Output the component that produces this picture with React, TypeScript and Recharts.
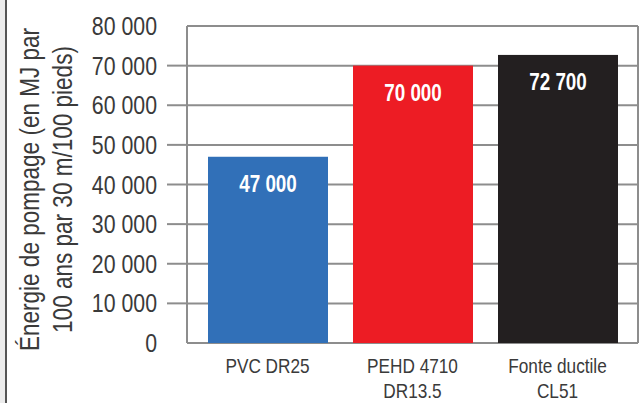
import { BarChart, Bar, XAxis, YAxis, CartesianGrid, LabelList } from "recharts";

const categories = ["PVC DR25", "PEHD 4710 DR13.5", "Fonte ductile CL51"];
const categoryLines = [["PVC DR25"], ["PEHD 4710", "DR13.5"], ["Fonte ductile", "CL51"]];
const energy = [47000, 70000, 72700];
const barColors = ["#3170b8", "#ed1c24", "#231f20"];
const yTicks = [0, 10000, 20000, 30000, 40000, 50000, 60000, 70000, 80000];
const yTitle = ["Énergie de pompage (en MJ par", "100 ans par 30 m/100 pieds)"];

const data = categories.map((c, i) => ({ name: c, value: energy[i], color: barColors[i] }));

const FONT = "'Liberation Sans', Arial, sans-serif";
const TEXT = "#3a3a3a";
const GRID = "#8d8d8d";
const SQUEEZE = 0.82; // no condensed font installed, so squeeze Liberation Sans

// "70 000" style
const fmt = (v: number) => String(v).replace(/\B(?=(\d{3})+(?!\d))/g, " ");

function Narrow({ x, y, rotate = 0, children, ...rest }: any) {
  return (
    <text transform={`translate(${x},${y}) rotate(${rotate}) scale(${SQUEEZE},1)`} x={0} y={0}
      fontFamily={FONT} {...rest}>
      {children}
    </text>
  );
}

function YTick({ x, y, payload }: any) {
  const v = payload.value;
  const inner = v !== yTicks[0] && v !== yTicks[yTicks.length - 1];
  return (
    <g>
      {inner && <line x1={x + 10} x2={x + 31} y1={y} y2={y} stroke={GRID} strokeWidth={2} />}
      <Narrow x={x} y={y + 9} textAnchor="end" fill={TEXT} fontSize={26}>{fmt(v)}</Narrow>
    </g>
  );
}

function XTick({ x, y, index }: any) {
  const lines = categoryLines[index] || [];
  return (
    <g>
      {lines.map((l, i) => (
        <Narrow key={i} x={x} y={y + 22 + i * 25} textAnchor="middle" fill={TEXT} fontSize={21}>{l}</Narrow>
      ))}
    </g>
  );
}

function YTitle({ viewBox }: any) {
  const { x, y, height } = viewBox;
  const cy = y + height / 2 + 5;
  return (
    <g>
      {yTitle.map((t, i) => (
        <Narrow key={i} x={x + 39 + i * 33} y={cy} rotate={-90} textAnchor="middle" fill={TEXT} fontSize={27.5}>
          {t}
        </Narrow>
      ))}
    </g>
  );
}

function BarValue({ x, y, width, value }: any) {
  return (
    <Narrow x={x + width / 2} y={y + 35} textAnchor="middle" fill="#ffffff" fontSize={23} fontWeight="bold">
      {fmt(value)}
    </Narrow>
  );
}

export default function App() {
  return (
    <div style={{ position: "absolute", left: 0, top: 0, width: 643, height: 403, background: "#fff", overflow: "hidden" }}>
      <div style={{ position: "absolute", left: 0, top: 0, width: 5, height: 403, background: "#ececec" }} />
      <div style={{ position: "absolute", left: 5, top: 0, width: 2, height: 403, background: "#555" }} />
      <BarChart width={643} height={403} data={data} margin={{ top: 26, right: 5, bottom: 0, left: 0 }}>
        <CartesianGrid
          stroke={GRID}
          strokeWidth={2}
          verticalCoordinatesGenerator={({ offset }: any) => [offset.left, offset.left + offset.width]}
        />
        <XAxis dataKey="name" height={60} axisLine={false} tickLine={false} interval={0}
          padding={{ left: 8, right: 8 }} tick={<XTick />} />
        <YAxis domain={[0, 80000]} ticks={yTicks} width={187} axisLine={false} tickLine={false}
          tickSize={20} tickMargin={10} interval={0} tick={<YTick />} label={{ content: <YTitle /> }} />
        <Bar dataKey="value" barSize={120} isAnimationActive={false}
          shape={(p: any) => <rect x={p.x} y={p.y} width={p.width} height={p.height} fill={p.payload.color} />}>
          <LabelList dataKey="value" content={<BarValue />} />
        </Bar>
      </BarChart>
    </div>
  );
}
